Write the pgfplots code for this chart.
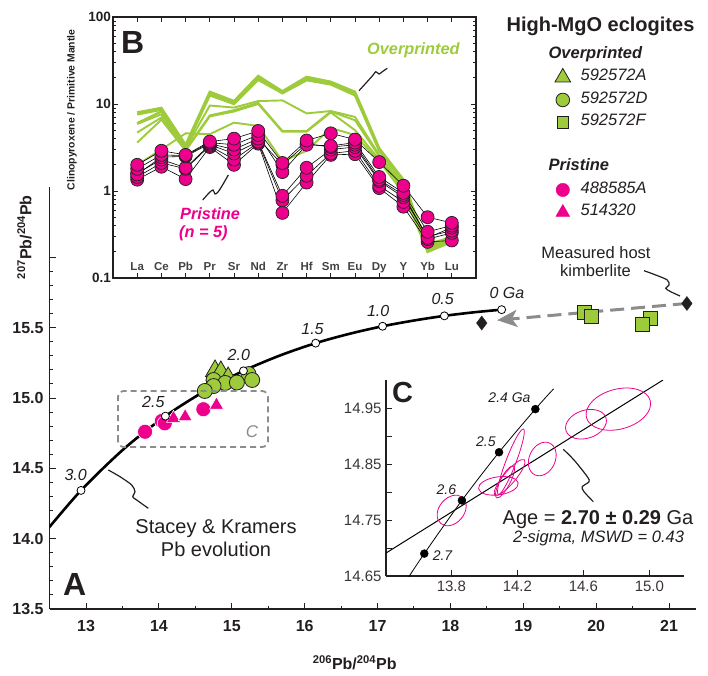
\documentclass[border=0pt]{standalone}
\usepackage{pgfplots}
\usepackage{pgfplotstable}
\pgfplotsset{compat=1.18}
\usepackage{fontspec}
\setmainfont{Liberation Sans}
\usetikzlibrary{arrows.meta}
\definecolor{lgreen}{HTML}{9DCB3B}
\definecolor{mpink}{HTML}{EC008C}
\definecolor{dgray}{HTML}{231F20}
\definecolor{bgray}{HTML}{8C8C8C}
\newcommand{\fsz}[1]{\fontsize{#1}{#1}\selectfont}

% panel B: overprinted samples (clinopyroxene / primitive mantle)
\pgfplotstableread{
x G1 G2 G3 G4 G5 G6 G7
0 8.0 7.6 6.0 5.9 4.7 3.6 2.0
1 9.0 8.6 8.2 7.6 7.0 6.6 3.0
2 3.4 3.3 3.2 3.1 3.0 2.9 4.6
3 13.8 13.2 12.6 9.6 7.4 7.2 4.5
4 10.8 10.4 10.0 9.1 8.5 8.2 6.1
5 21.0 20.0 19.0 10.8 10.3 10.0 5.6
6 14.0 13.6 13.3 11.0 4.9 4.8 2.2
7 20.5 19.5 18.8 7.8 4.9 4.8 2.9
8 18.0 17.3 16.8 8.3 8.2 8.0 5.3
9 13.8 13.2 12.6 7.1 6.5 5.0 4.4
10 3.1 3.0 2.9 2.6 2.5 2.3 2.2
11 1.35 1.30 1.25 1.15 1.10 1.05 0.95
12 0.21 0.20 0.22 0.24 0.25 0.23 0.20
13 0.27 0.26 0.28 0.30 0.29 0.30 0.28
}\overprinted

% panel B: pristine samples
\pgfplotstableread{
x P1 P2 P3 P4 P5 P6
0 2.0 1.8 1.6 1.45 1.35 1.55
1 2.9 2.6 2.3 2.1 1.9 2.45
2 2.6 2.55 1.85 1.8 1.37 2.5
3 3.7 3.6 3.4 3.3 3.2 3.5
4 4.0 3.4 2.7 2.3 2.0 3.0
5 4.9 4.4 3.7 3.6 3.5 4.0
6 2.1 1.65 0.88 0.78 0.56 2.0
7 3.8 3.4 1.85 1.5 1.25 3.5
8 4.6 3.3 3.0 2.7 2.6 3.2
9 3.9 3.6 3.2 2.9 2.65 3.4
10 2.15 1.45 1.3 1.15 1.08 1.35
11 1.15 0.95 0.85 0.75 0.66 0.9
12 0.50 0.34 0.30 0.28 0.26 0.29
13 0.43 0.40 0.35 0.33 0.27 0.38
}\pristine

\begin{document}
\begin{tikzpicture}[x=1pt,y=1pt]
\path[use as bounding box] (0,0) rectangle (708,675);

% ---------------- panel A ----------------
\begin{axis}[
  at={(49.6pt,66pt)}, anchor=south west, scale only axis,
  width=646.4pt, height=422pt,
  xmin=12.5, xmax=21.37, ymin=13.5, ymax=16.5,
  axis x line=bottom, axis y line=left,
  axis line style={-, line width=1.2pt, dgray},
  tick align=inside, major tick length=6pt, minor tick length=3.5pt,
  every tick/.style={dgray, line width=1pt},
  xtick={13,...,21}, xticklabels={13,14,15,16,17,18,19,20,21}, minor x tick num=1,
  ytick={13.5,14,14.5,15,15.5,16}, yticklabels={13.5,14.0,14.5,15.0,15.5,{}},
  minor y tick num=4,
  tick label style={font=\fsz{16}\bfseries, text=dgray},
  xticklabel style={yshift=-8pt},
  yticklabel style={xshift=-2.5pt},
  xlabel={\textsuperscript{206}Pb/\textsuperscript{204}Pb},
  ylabel={\textsuperscript{207}Pb/\textsuperscript{204}Pb},
  xlabel style={at={(axis description cs:0.472,-0.128)}, anchor=center, font=\fsz{16}\bfseries, text=dgray},
  ylabel style={at={(axis description cs:-0.0387,0.881)}, anchor=center, font=\fsz{16}\bfseries, text=dgray},
]
% Stacey & Kramers two-stage evolution (3.2 to 0 Ga)
\addplot[line width=2.6pt, black, smooth, no marks] coordinates {
  (12.442,14.048) (12.931,14.343) (13.521,14.639) (14.089,14.871)
  (14.635,15.051) (15.160,15.193) (15.665,15.303) (16.151,15.390)
  (16.619,15.457) (17.069,15.510) (17.501,15.551) (17.917,15.584)
  (18.318,15.609) (18.703,15.628)};
% host kimberlite correction arrow
\addplot[bgray, line width=3pt, dash pattern=on 14pt off 7pt,
  -{Stealth[length=20pt,width=17pt,inset=5pt]}] coordinates {(21.245,15.672) (18.64,15.553)};
% pristine
\addplot[only marks, mark=*, mark size=7.5pt, mark options={fill=mpink, draw=white, line width=0.6pt}]
  coordinates {(13.81,14.76) (14.04,14.837) (14.08,14.82) (14.61,14.92)};
\addplot[only marks, mark=triangle*, mark size=8pt, mark options={fill=mpink, draw=white, line width=0.5pt}]
  coordinates {(14.20,14.856) (14.36,14.867) (14.79,14.95)};
% overprinted
\addplot[only marks, mark=triangle*, mark size=11pt, mark options={fill=lgreen, draw=dgray, line width=0.8pt}]
  coordinates {(14.78,15.164) (14.77,15.192) (14.85,15.185) (14.95,15.142)};
\addplot[only marks, mark=*, mark size=7.5pt, mark options={fill=lgreen, draw=dgray, line width=0.8pt}]
  coordinates {(14.75,15.128) (14.91,15.107) (15.23,15.17) (14.75,15.085) (15.07,15.11) (15.28,15.128) (14.63,15.05)};
\addplot[only marks, mark=square*, mark size=7pt, mark options={fill=lgreen, draw=dgray, line width=0.8pt}]
  coordinates {(19.833,15.605) (19.93,15.577) (20.74,15.569) (20.63,15.52)};
% measured host kimberlite
\addplot[only marks, mark=diamond*, mark size=7pt, mark options={fill=dgray, draw=dgray}]
  coordinates {(18.43,15.533) (21.245,15.672)};
% model age ticks on the curve
\addplot[only marks, mark=*, mark size=4pt, mark options={fill=white, draw=black, line width=0.8pt}]
  coordinates {(12.931,14.343) (14.089,14.871) (15.160,15.193) (16.151,15.390)
  (17.069,15.510) (17.917,15.584) (18.703,15.628)};
\end{axis}

% ---------------- panel B ----------------
\begin{axis}[
  at={(113pt,397pt)}, anchor=south west, scale only axis,
  width=363pt, height=261pt,
  xmin=-1, xmax=14, ymode=log, ymin=0.1, ymax=100,
  axis line style={line width=1.2pt, dgray},
  tick align=inside, major tick length=5pt, minor tick length=3pt,
  every tick/.style={dgray, line width=0.9pt},
  xtick={0,...,13},
  xticklabels={La,Ce,Pb,Pr,Sr,Nd,Zr,Hf,Sm,Eu,Dy,Y,Yb,Lu},
  xticklabel style={font=\fsz{11.5}\bfseries, text=dgray!85, anchor=base, yshift=8pt},
  ytick={0.1,1,10,100}, yticklabels={0.1,1,10,100},
  minor ytick={0.2,0.3,0.4,0.5,0.6,0.7,0.8,0.9,2,3,4,5,6,7,8,9,20,30,40,50,60,70,80,90},
  yticklabel style={font=\fsz{13.5}\bfseries, text=dgray, xshift=1.5pt},
  ylabel={Clinopyroxene / Primitive Mantle},
  ylabel style={at={(axis description cs:-0.113,0.644)}, anchor=center, font=\fsz{10.4}\bfseries, text=dgray},
]
\foreach \c in {G1,G2,G3} {
  \addplot[lgreen, line width=2.4pt, no marks] table[x=x, y=\c] {\overprinted};
}
\foreach \c in {G4,G5,G6,G7} {
  \addplot[lgreen, line width=1.9pt, no marks] table[x=x, y=\c] {\overprinted};
}
\foreach \c in {P5,P4,P3,P6,P2,P1} {
  \addplot[black, line width=0.6pt, mark=*, mark size=6.5pt,
    mark options={fill=mpink, draw=dgray, line width=0.7pt}] table[x=x, y=\c] {\pristine};
}
\end{axis}

% ---------------- panel C ----------------
\begin{axis}[
  at={(386pt,99pt)}, anchor=south west, scale only axis,
  width=298pt, height=196pt,
  xmin=13.404, xmax=15.21, ymin=14.65, ymax=15.0,
  axis x line=bottom, axis y line=left,
  axis line style={-, line width=1.2pt, dgray},
  tick align=inside, major tick length=6pt,
  every tick/.style={dgray, line width=1pt},
  xtick={13.8,14.2,14.6,15.0}, xticklabels={13.8,14.2,14.6,15.0},
  ytick={14.65,14.70,14.75,14.80,14.85,14.90,14.95},
  yticklabels={14.65,{},14.75,{},14.85,{},14.95},
  tick label style={font=\fsz{15}, text=dgray!90},
  xticklabel style={yshift=-1.5pt},
  yticklabel style={xshift=-1pt},
]
% 2-sigma error ellipses
\addplot[only marks, mark=o, mark size=10pt, mpink, mark options={rotate=50, xscale=1.7, yscale=1.25, line width=0.8pt}] coordinates {(13.802,14.767)};
\addplot[only marks, mark=o, mark size=10pt, mpink, mark options={rotate=8, xscale=2.0, yscale=0.9, line width=0.8pt}] coordinates {(14.085,14.811)};
\addplot[only marks, mark=o, mark size=10pt, mpink, mark options={rotate=69, xscale=3.5, yscale=0.5, line width=0.8pt}] coordinates {(14.161,14.854)};
\addplot[only marks, mark=o, mark size=10pt, mpink, mark options={rotate=50, xscale=2.3, yscale=0.6, line width=0.8pt}] coordinates {(14.153,14.826)};
\addplot[only marks, mark=o, mark size=10pt, mpink, mark options={rotate=62, xscale=1.8, yscale=0.5, line width=0.8pt}] coordinates {(14.125,14.818)};
\addplot[only marks, mark=o, mark size=10pt, mpink, mark options={rotate=65, xscale=1.75, yscale=1.3, line width=0.8pt}] coordinates {(14.351,14.859)};
\addplot[only marks, mark=o, mark size=10pt, mpink, mark options={rotate=18, xscale=2.1, yscale=1.4, line width=0.8pt}] coordinates {(14.616,14.921)};
\addplot[only marks, mark=o, mark size=10pt, mpink, mark options={rotate=15, xscale=3.3, yscale=2.0, line width=0.8pt}] coordinates {(14.812,14.948)};
% isochron
\addplot[black, line width=1pt, no marks] coordinates {(13.404,14.691) (15.083,15.0)};
% Stacey & Kramers curve, 2.75 to 2.35 Ga
\addplot[black, line width=0.8pt, smooth, no marks] coordinates {
  (13.521,14.639) (13.636,14.690) (13.864,14.785) (14.089,14.871) (14.309,14.948) (14.419,14.984)};
\addplot[only marks, mark=*, mark size=4pt, black] coordinates {
  (13.636,14.690) (13.864,14.785) (14.089,14.871) (14.309,14.948)};
\end{axis}

% ---------------- legend ----------------
\begin{axis}[
  at={(555pt,631.3pt)}, anchor=north west, scale only axis,
  width=10pt, height=10pt, hide axis, xmin=0, xmax=1, ymin=0, ymax=1,
  legend style={at={(0,1)}, anchor=north west, draw=none, fill=none,
    inner sep=0pt, outer sep=0pt, font=\fsz{16.5}\itshape, text=dgray, row sep=0pt,
    nodes={inner sep=1pt, text height=13.5pt, text depth=7pt},
    /tikz/every odd column/.append style={column sep=9pt}},
  legend cell align=left,
  legend image code/.code={\draw[#1] plot coordinates {(0pt,0pt)};},
]
\addlegendimage{empty legend}
\addlegendentry{\hspace*{-32pt}\bfseries Overprinted}
\addlegendimage{only marks, mark=triangle*, mark size=9pt, mark options={fill=lgreen, draw=dgray, line width=0.8pt}}
\addlegendentry{592572A}
\addlegendimage{only marks, mark=*, mark size=6.8pt, mark options={fill=lgreen, draw=dgray, line width=0.8pt}}
\addlegendentry{592572D}
\addlegendimage{only marks, mark=square*, mark size=5.8pt, mark options={fill=lgreen, draw=dgray, line width=0.8pt}}
\addlegendentry{592572F}
\addlegendimage{empty legend}
\addlegendentry{}
\addlegendimage{empty legend}
\addlegendentry{\hspace*{-32pt}\bfseries Pristine}
\addlegendimage{only marks, mark=*, mark size=6.7pt, mark options={fill=mpink, draw=mpink}}
\addlegendentry{488585A}
\addlegendimage{only marks, mark=triangle*, mark size=8pt, mark options={fill=mpink, draw=mpink}}
\addlegendentry{514320}
\end{axis}

% ---------------- annotations ----------------
\node[anchor=base, font=\fsz{20}\bfseries, text=dgray] at (600.5,643.3) {High-MgO eclogites};
\node[anchor=base west, font=\fsz{32}\bfseries, text=dgray, inner sep=0pt] at (63,80) {A};
\node[anchor=base west, font=\fsz{32}\bfseries, text=dgray, inner sep=0pt] at (121,621.7) {B};
\node[anchor=base west, font=\fsz{29}\bfseries, text=dgray, inner sep=0pt] at (392,272.5) {C};

% panel A labels
\begin{scope}[font=\fsz{16}\itshape, text=dgray]
\node[anchor=base] at (75.7,195) {3.0};
\node[anchor=base] at (153.3,267.7) {2.5};
\node[anchor=base] at (238.8,315) {2.0};
\node[anchor=base] at (312.5,340.7) {1.5};
\node[anchor=base] at (378.2,358.3) {1.0};
\node[anchor=base] at (442.7,370.5) {0.5};
\node[anchor=base] at (507,376) {0 Ga};
\end{scope}
\node[anchor=base, font=\fsz{17}\itshape, text=bgray] at (252,238) {C};
\draw[bgray, line width=1.8pt, dash pattern=on 6pt off 4pt, rounded corners=6pt]
  (118,228) rectangle (268,284);
\node[anchor=base, font=\fsz{20}, text=dgray] at (216,142) {Stacey \& Kramers};
\node[anchor=base, font=\fsz{20}, text=dgray] at (216,119) {Pb evolution};
\node[anchor=base, font=\fsz{16.5}, text=dgray] at (596,416.7) {Measured host};
\node[anchor=base, font=\fsz{16.5}, text=dgray] at (595.5,398.3) {kimberlite};

% panel B labels
\node[anchor=base west, font=\fsz{16.3}\bfseries\itshape, text=lgreen, inner sep=0pt] at (367,620) {Overprinted};
\node[anchor=base west, font=\fsz{16.3}\bfseries\itshape, text=mpink, inner sep=0pt] at (180,455) {Pristine};
\node[anchor=base west, font=\fsz{16.3}\bfseries\itshape, text=mpink, inner sep=0pt] at (179,437.5) {(n = 5)};

% panel C labels
\begin{scope}[font=\fsz{14}\itshape, text=dgray]
\node[anchor=base] at (509.5,272.7) {2.4 Ga};
\node[anchor=base] at (485.8,228.3) {2.5};
\node[anchor=base] at (446.3,181) {2.6};
\node[anchor=base] at (442.5,114.3) {2.7};
\end{scope}
\node[anchor=base, font=\fsz{20}, text=dgray] at (598,151) {Age = \textbf{2.70 ± 0.29} Ga};
\node[anchor=base, font=\fsz{16.5}\itshape, text=dgray] at (598.5,133) {2-sigma, MSWD = 0.43};

% leader squiggles
\begin{scope}[line width=1.2pt, dgray]
\draw plot[smooth] coordinates {(202.7,475) (209,482) (213,485) (215,481) (218,483) (222,489) (228.3,500)};
\draw plot[smooth] coordinates {(359,584.3) (372.3,599) (375.7,603.3) (379,601) (382.3,603.3) (387.3,606.7)};
\draw plot[smooth] coordinates {(108.3,205) (120,198.3) (131.7,190) (135,183.3) (132.7,178.3) (136.7,175) (148.3,166.7)};
\draw plot[smooth] coordinates {(563.3,225.7) (574,215) (587.3,198.3) (589,193.3) (582.3,188.3) (584,183.3) (593.3,173.3)};
\draw plot[smooth] coordinates {(644,404.3) (655.7,400) (667.3,395) (669,390) (665.7,386.7) (670.7,383.3) (680,379)};
\end{scope}
\end{tikzpicture}
\end{document}
